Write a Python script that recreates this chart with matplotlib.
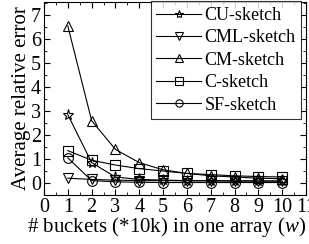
import matplotlib
matplotlib.use("Agg")
import matplotlib.pyplot as plt
from matplotlib.ticker import MultipleLocator

plt.rcParams["font.family"] = ["Liberation Serif", "DejaVu Serif"]
plt.rcParams["mathtext.fontset"] = "custom"
plt.rcParams["mathtext.it"] = "Liberation Serif:italic"
plt.rcParams["mathtext.rm"] = "Liberation Serif"

buckets = [1, 2, 3, 4, 5, 6, 7, 8, 9, 10]
cu = [2.85, 0.85, 0.25, 0.15, 0.12, 0.1, 0.1, 0.09, 0.09, 0.08]
cml = [0.2, 0.15, 0.12, 0.1, 0.1, 0.09, 0.09, 0.08, 0.08, 0.08]
cm = [6.55, 2.6, 1.4, 0.85, 0.55, 0.4, 0.3, 0.25, 0.2, 0.18]
c = [1.35, 0.95, 0.75, 0.6, 0.5, 0.4, 0.35, 0.3, 0.27, 0.25]
sf = [1.05, 0.1, 0.05, 0.03, 0.02, 0.02, 0.02, 0.02, 0.02, 0.02]

series = [
    ("CU-sketch", cu, "*"),
    ("CML-sketch", cml, "v"),
    ("CM-sketch", cm, "^"),
    ("C-sketch", c, "s"),
    ("SF-sketch", sf, "o"),
]

fig = plt.figure(figsize=(3.09, 2.44), dpi=100)
ax = fig.add_axes([44 / 309, 1 - 195 / 244, 262 / 309, 193 / 244])

for name, vals, m in series:
    ax.plot(buckets, vals, color="black", lw=0.8, marker=m, ms=8 if m == "*" else 7,
            mfc="none", mec="black", mew=0.8, label=name)

ax.set_xlim(0, 11)
ax.set_ylim(-0.5, 7.55)
ax.xaxis.set_major_locator(MultipleLocator(1))
ax.xaxis.set_minor_locator(MultipleLocator(0.5))
ax.yaxis.set_major_locator(MultipleLocator(1))
ax.yaxis.set_minor_locator(MultipleLocator(0.5))
ax.tick_params(which="both", direction="in", top=True, right=True, labelsize=14.5, pad=2)
ax.tick_params(which="major", length=4)
ax.tick_params(which="minor", length=2)
for s in ax.spines.values():
    s.set_linewidth(0.8)

ax.set_xlabel("# buckets (*10k) in one array ($w$)", fontsize=15, labelpad=-1)
ax.xaxis.set_label_coords(0.468, -0.105)
ax.set_ylabel("Average relative error", fontsize=15, labelpad=0)

leg = ax.legend(loc="upper right", fontsize=13, frameon=True, fancybox=False,
                edgecolor="black", handlelength=2.5, handletextpad=0.2,
                borderpad=0.3, labelspacing=0.3, borderaxespad=0.0,
                markerscale=0.75, bbox_to_anchor=(0.982, 1.003))
leg.get_frame().set_linewidth(0.8)

fig.savefig("out.png", dpi=100)
